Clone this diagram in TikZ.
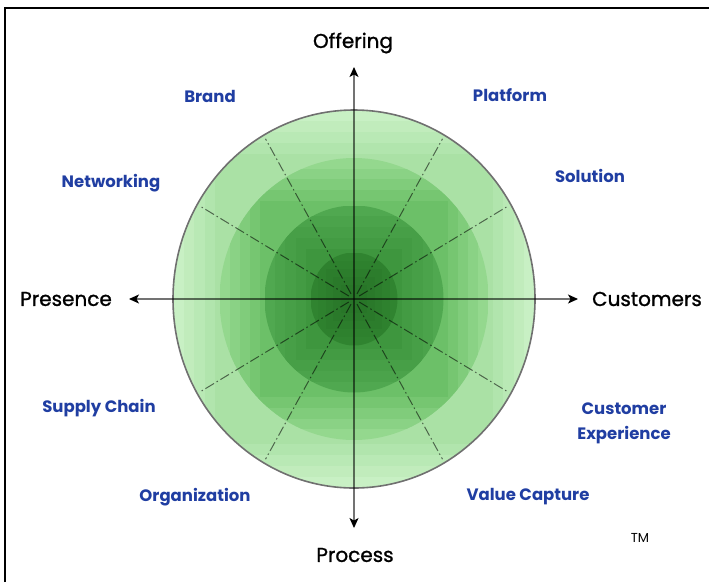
\documentclass[tikz,border=0pt]{standalone}
\usepackage{fontspec}
\setmainfont{Poppins}
\newfontfamily\axisfont{Poppins}[FakeBold=1.2]
\usetikzlibrary{arrows.meta,calc}

\definecolor{ringAout}{RGB}{200,240,196}
\definecolor{ringAin}{RGB}{170,225,165}
\definecolor{ringBout}{RGB}{148,216,142}
\definecolor{ringBin}{RGB}{108,192,104}
\definecolor{ringCout}{RGB}{80,168,80}
\definecolor{ringCin}{RGB}{62,150,62}
\definecolor{ringDout}{RGB}{48,132,48}
\definecolor{ringDin}{RGB}{40,118,40}
\definecolor{rimgray}{RGB}{112,112,112}
\definecolor{labelblue}{RGB}{32,62,162}

\tikzset{
  axis/.style={draw=black, draw opacity=0.55, line width=1.1pt},
  axistip/.style={draw=black, line width=1.1pt,
               -{Stealth[length=10pt,width=9pt,inset=2.5pt]}},
  spoke/.style={draw=black, draw opacity=0.55, line width=1pt,
                dash pattern=on 10pt off 3pt on 1.5pt off 3pt},
  axislabel/.style={font=\axisfont\fontsize{20}{22}\selectfont, text=black, inner sep=0pt},
  dimlabel/.style={font=\fontsize{16.5}{25}\selectfont\bfseries, text=labelblue,
                   inner sep=0pt, align=center},
  tmlabel/.style={font=\fontsize{13}{14}\selectfont, text=black, inner sep=0pt},
  frameline/.style={draw=black, line width=2pt}
}

% one disc, stepped from its rim colour to a darker tone in square bands
% #1 x radius, #2 y radius, #3 x radius of the next disc, #4 rim colour, #5 inner colour
\newcommand\shadeddisc[5]{%
  \begin{scope}
    \clip (o) ellipse [x radius=#1pt, y radius=#2pt];
    \foreach \k in {0,1,2,3,4}{
      \pgfmathsetmacro\hx{#1-(#1-#3)*\k/4.4}
      \pgfmathsetmacro\hy{\hx/#1*#2}
      \pgfmathtruncatemacro\mixp{\k*25}
      \fill[#5!\mixp!#4] ($(o)+(-\hx pt,-\hy pt)$) rectangle ($(o)+(\hx pt,\hy pt)$);
    }
  \end{scope}}

\begin{document}
\begin{tikzpicture}[x=1pt,y=-1pt]
  \useasboundingbox (0,0) rectangle (709,582);

  % outer frame (top and left edges)
  \coordinate (fbl) at (5,582);
  \coordinate (ftl) at (5,8);
  \coordinate (ftr) at (709,8);
  \draw[frameline] (fbl) -- (ftl) -- (ftr);

  % centre of the wheel
  \coordinate (o) at (354,299);

  % concentric discs
  \shadeddisc{181}{189}{134.5}{ringAout}{ringAin}
  \shadeddisc{134.5}{141}{89.5}{ringBout}{ringBin}
  \shadeddisc{89.5}{93.5}{43.5}{ringCout}{ringCin}
  \shadeddisc{43.5}{46.5}{10}{ringDout}{ringDin}

  % dash-dot spokes between the axes
  \foreach \a in {30,60,120,150,210,240,300,330}{
    \draw[spoke] ($(o)+(\a:6pt and 6pt)$) -- ($(o)+(\a:177pt and 185pt)$);
  }

  % rim
  \draw[rimgray, line width=1.6pt] (o) ellipse [x radius=181pt, y radius=189pt];

  % axes
  \coordinate (axtop) at (354,67);
  \coordinate (axbot) at (354,528);
  \coordinate (axleft) at (129,299);
  \coordinate (axright) at (578,299);
  \foreach \e in {axtop,axbot,axleft,axright}{
    \draw[axis] (o) -- ($(\e)!3pt!(o)$);
    \draw[axistip] ($(\e)!4pt!(o)$) -- (\e);
  }

  % axis labels
  \node[axislabel] (offering) at (353,43) {Offering};
  \node[axislabel] (process) at (355,555) {Process};
  \node[axislabel] (presence) at (66,299) {Presence};
  \node[axislabel] (customers) at (647,299) {Customers};

  % the twelve dimensions
  \node[dimlabel] (brand) at (210,96) {Brand};
  \node[dimlabel] (platform) at (510,95) {Platform};
  \node[dimlabel] (networking) at (111,183) {Networking};
  \node[dimlabel] (solution) at (590,176) {Solution};
  \node[dimlabel] (supply) at (99,408) {Supply Chain};
  \node[dimlabel] (custexp) at (624,423) {Customer\\Experience};
  \node[dimlabel] (organization) at (195,497) {Organization};
  \node[dimlabel] (valuecap) at (528,497) {Value Capture};

  \node[tmlabel] (tm) at (640,538) {TM};
\end{tikzpicture}
\end{document}
